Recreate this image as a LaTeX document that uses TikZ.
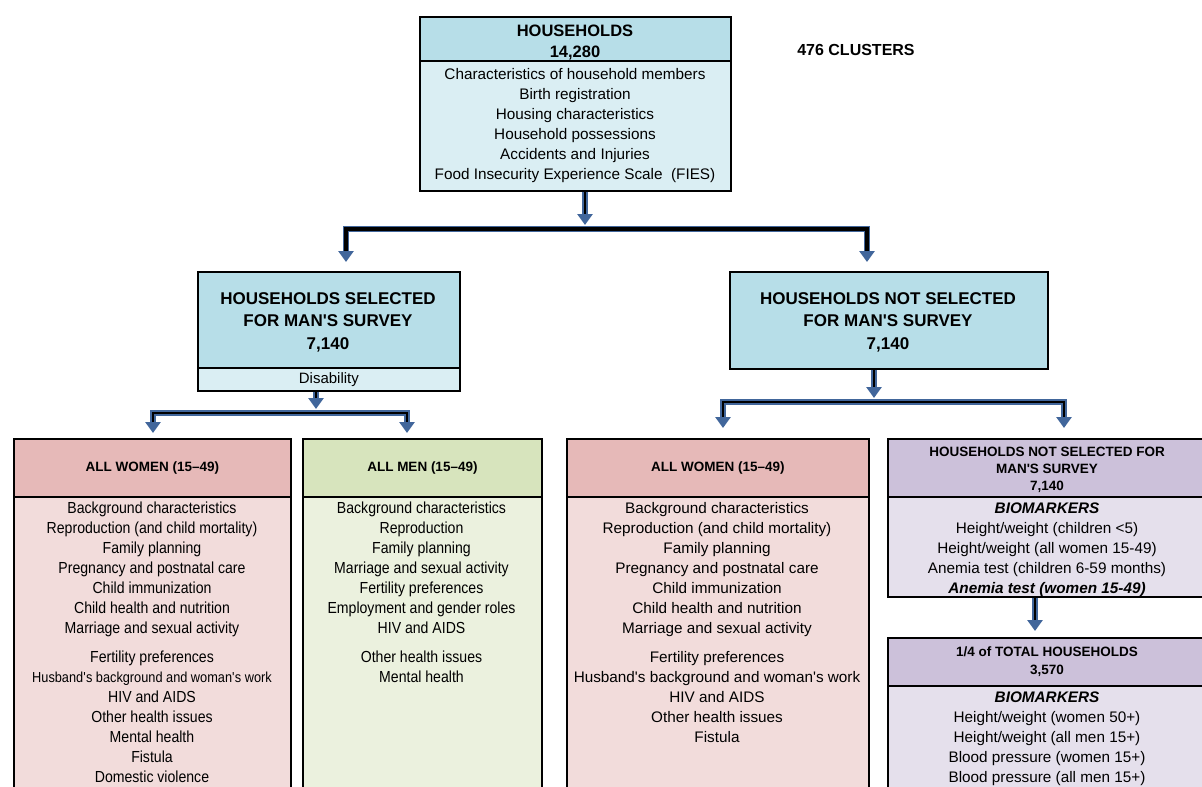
\documentclass[tikz,border=0pt]{standalone}
\usepackage{fontspec}
\setmainfont{Liberation Sans}
\newfontfamily\condfont[FakeStretch=0.88]{Liberation Sans}
\usetikzlibrary{arrows.meta}
\definecolor{hdrblue}{HTML}{B7DEE8}
\definecolor{bodyblue}{HTML}{DAEEF3}
\definecolor{hdrred}{HTML}{E6B9B8}
\definecolor{bodyred}{HTML}{F2DCDB}
\definecolor{hdrgreen}{HTML}{D7E4BD}
\definecolor{bodygreen}{HTML}{EBF1DE}
\definecolor{hdrpurple}{HTML}{CCC1DA}
\definecolor{bodypurple}{HTML}{E5E0EC}
\definecolor{linkblue}{HTML}{41669B}
\newcommand\ap{\textquotesingle}
\tikzstyle{box}=[draw=black, line width=1.8pt, anchor=north west, inner sep=0pt]
\tikzstyle{txt}=[align=center, anchor=north, inner sep=0pt, font=\fontsize{15.3}{20}\selectfont, execute at begin node=\strut]
\tikzstyle{head}=[align=center, inner sep=0pt, font=\bfseries\fontsize{13.5}{17}\selectfont]
\tikzstyle{link}=[draw=linkblue, line width=6pt, -{Triangle[width=15pt,length=11pt]}, postaction={draw=black, line width=2.2pt, -, shorten >=11pt}]
\tikzstyle{fork}=[draw=linkblue, line width=6pt, {Triangle[width=15pt,length=11pt]}-{Triangle[width=15pt,length=11pt]}, postaction={draw=black, line width=2.2pt, -, shorten >=11pt, shorten <=11pt}]

\begin{document}
\begin{tikzpicture}[x=1pt, y=-1pt]
\useasboundingbox (0,0) rectangle (1202,787);

% all households
\node[box, fill=hdrblue, minimum width=311pt, minimum height=44pt] (tophead) at (419,16) {};
\node[box, fill=bodyblue, minimum width=311pt, minimum height=130pt] (topbody) at (419,60) {};
\node[head, font=\bfseries\fontsize{16.5}{21}\selectfont] (toptitle) at (575,42.5) {HOUSEHOLDS\\14,280};
\node[txt] (toplist) at (575,68) {Characteristics of household members\\Birth registration\\Housing characteristics\\Household possessions\\Accidents and Injuries\\Food Insecurity Experience Scale~~(FIES)};
\node[font=\bfseries\fontsize{16}{20}\selectfont] (clusters) at (856,50) {476 CLUSTERS};

% second level
\node[box, fill=hdrblue, minimum width=262pt, minimum height=96pt] (selhead) at (197,271) {};
\node[box, fill=bodyblue, minimum width=262pt, minimum height=23pt] (dis) at (197,367) {};
\node[head, font=\bfseries\fontsize{17}{22.5}\selectfont] (seltitle) at (328,322) {HOUSEHOLDS SELECTED\\FOR MAN\ap S SURVEY\\7,140};
\node[font=\fontsize{15}{20}\selectfont] (distext) at (dis.center) {Disability};

\node[box, fill=hdrblue, minimum width=318pt, minimum height=97pt] (nothead) at (729,271) {};
\node[head, font=\bfseries\fontsize{17}{22.5}\selectfont] (nottitle) at (888,322) {HOUSEHOLDS NOT SELECTED\\FOR MAN\ap S SURVEY\\7,140};

% women, men
\node[box, fill=hdrred, minimum width=277pt, minimum height=58pt] (w1head) at (13,438) {};
\node[box, fill=bodyred, minimum width=277pt, minimum height=304pt] (w1body) at (13,496) {};
\node[head] (w1title) at (w1head.center) {ALL WOMEN (15--49)};
\node[txt, font=\condfont\fontsize{16}{20}\selectfont] (w1list) at (152,502) {Background characteristics\\Reproduction (and child mortality)\\Family planning\\Pregnancy and postnatal care\\Child immunization\\Child health and nutrition\\Marriage and sexual activity\\[9pt]Fertility preferences\\{\fontsize{14.5}{20}\selectfont Husband\ap s background and woman\ap s work}\\HIV and AIDS\\Other health issues\\Mental health\\Fistula\\Domestic violence};

\node[box, fill=hdrgreen, minimum width=239pt, minimum height=58pt] (m1head) at (302,438) {};
\node[box, fill=bodygreen, minimum width=239pt, minimum height=304pt] (m1body) at (302,496) {};
\node[head] (m1title) at (m1head.center) {ALL MEN (15--49)};
\node[txt, font=\condfont\fontsize{16}{20}\selectfont] (m1list) at (421.5,502) {Background characteristics\\Reproduction\\Family planning\\Marriage and sexual activity\\Fertility preferences\\Employment and gender roles\\HIV and AIDS\\[9pt]Other health issues\\Mental health};

\node[box, fill=hdrred, minimum width=302pt, minimum height=58pt] (w2head) at (566,438) {};
\node[box, fill=bodyred, minimum width=302pt, minimum height=304pt] (w2body) at (566,496) {};
\node[head] (w2title) at (w2head.center) {ALL WOMEN (15--49)};
\node[txt] (w2list) at (717,502.5) {Background characteristics\\Reproduction (and child mortality)\\Family planning\\Pregnancy and postnatal care\\Child immunization\\Child health and nutrition\\Marriage and sexual activity\\[9pt]Fertility preferences\\Husband\ap s background and woman\ap s work\\HIV and AIDS\\Other health issues\\Fistula};

% biomarkers
\node[box, fill=hdrpurple, minimum width=320pt, minimum height=58pt] (p1head) at (887,438) {};
\node[box, fill=bodypurple, minimum width=320pt, minimum height=100pt] (p1body) at (887,496) {};
\node[head] (p1title) at (1047,470) {HOUSEHOLDS NOT SELECTED FOR\\MAN\ap S SURVEY\\7,140};
\node[txt] (p1list) at (1047,503) {\textbf{\textit{BIOMARKERS}}\\Height/weight (children <5)\\Height/weight (all women 15-49)\\Anemia test (children 6-59 months)\\\textbf{\textit{Anemia test (women 15-49)}}};

\node[box, fill=hdrpurple, minimum width=320pt, minimum height=48pt] (p2head) at (887,637) {};
\node[box, fill=bodypurple, minimum width=320pt, minimum height=115pt] (p2body) at (887,685) {};
\node[head, font=\bfseries\fontsize{13.5}{18}\selectfont] (p2title) at (1047,662) {1/4 of TOTAL HOUSEHOLDS\\3,570};
\node[txt] (p2list) at (1047,692) {\textbf{\textit{BIOMARKERS}}\\Height/weight (women 50+)\\Height/weight (all men 15+)\\Blood pressure (women 15+)\\Blood pressure (all men 15+)};

% connectors
\coordinate (j1) at (585,229);
\coordinate (j1in) at (585,225);
\coordinate (selin) at (346,262);
\coordinate (notin) at (867,262);
\draw[link] (topbody.south -| j1) -- (j1in);
\draw[fork, postaction={draw=black, line width=3.2pt, -, shorten >=11pt, shorten <=11pt}] (selin) |- (j1) -| (notin);

\coordinate (j2) at (316,413);
\coordinate (j2in) at (316,409);
\coordinate (w1in) at (153,433);
\coordinate (m1in) at (407,433);
\draw[link] (dis.south -| j2) -- (j2in);
\draw[fork] (w1in) |- (j2) -| (m1in);

\coordinate (j3) at (874,402);
\coordinate (j3in) at (874,398);
\coordinate (w2in) at (723,428);
\coordinate (p1in) at (1064,428);
\draw[link] (nothead.south -| j3) -- (j3in);
\draw[fork] (w2in) |- (j3) -| (p1in);

\coordinate (p2in) at (1035,631);
\draw[link] (p1body.south -| p2in) -- (p2in);

\end{tikzpicture}
\end{document}
